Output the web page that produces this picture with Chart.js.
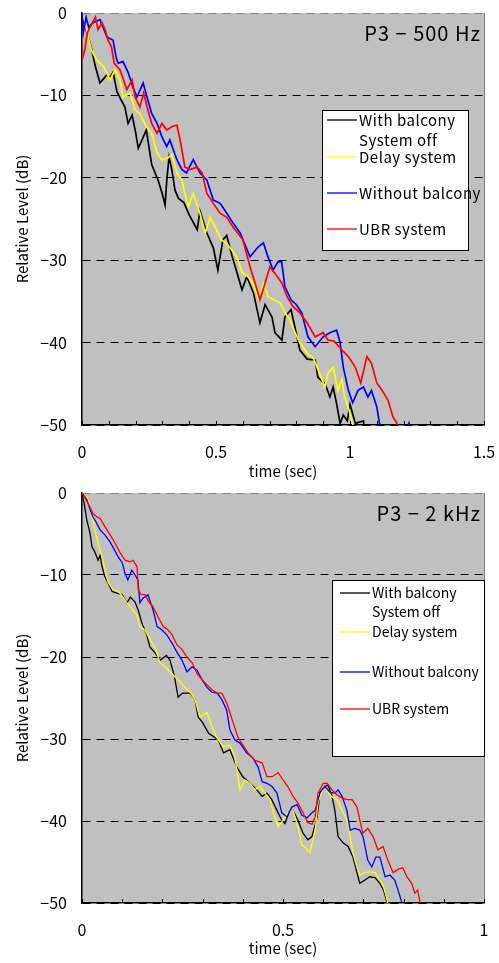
<!DOCTYPE html>
<html>
<head>
<meta charset="utf-8">
<script src="https://cdn.jsdelivr.net/npm/chart.js@4/dist/chart.umd.min.js"></script>
<style>
  body { margin: 0; background: #fff; }
  .box { position: absolute; left: 0; width: 499px; }
</style>
</head>
<body>
<div class="box" style="top:0;height:480px"><canvas id="c500" width="499" height="480"></canvas></div>
<div class="box" style="top:480px;height:483px"><canvas id="c2k" width="499" height="483"></canvas></div>
<script>
// legend text, one entry per curve (black one wraps onto two lines)
const legendLines = [['With balcony', 'System off'], ['Delay system'], ['Without balcony'], ['UBR system']];
const curveColors = ['#000000', '#ffff00', '#0000ff', '#ff0000'];
const yTicks = [0, -10, -20, -30, -40, -50];

// P3 - 500 Hz : [time (sec), level (dB)]
const black500 = [[0,0],[0.01,-1.5],[0.03,-3.6],[0.05,-6.5],[0.067,-8.5],[0.08,-8.0],[0.093,-7.5],[0.105,-7.8],[0.116,-7.2],[0.13,-9.5],[0.145,-10.5],[0.16,-11.4],[0.172,-13.4],[0.187,-12.4],[0.2,-14.5],[0.21,-16.4],[0.224,-15.4],[0.24,-14.2],[0.26,-18.4],[0.284,-20.3],[0.3,-22],[0.31,-23.3],[0.317,-20],[0.325,-17.5],[0.335,-19],[0.347,-21.5],[0.36,-22.5],[0.38,-23],[0.4,-24.5],[0.43,-26.3],[0.44,-24],[0.466,-26.7],[0.49,-28.5],[0.507,-31.2],[0.526,-27.5],[0.54,-27],[0.56,-29.5],[0.578,-31.5],[0.597,-33.6],[0.615,-32],[0.64,-34],[0.664,-37.6],[0.683,-35.4],[0.709,-36.9],[0.72,-38.8],[0.746,-39.7],[0.757,-36.9],[0.78,-36],[0.813,-40.9],[0.84,-42],[0.87,-42.1],[0.88,-44.2],[0.907,-45],[0.925,-46.6],[0.937,-45.4],[0.95,-47.4],[0.963,-49.8],[0.975,-48.8],[0.99,-49.5],[1.0,-47.5],[1.02,-49.8],[1.05,-49.5],[1.06,-52]];
const yellow500 = [[0,0],[0.01,-1],[0.035,-4.5],[0.055,-5.7],[0.08,-6.5],[0.105,-8.1],[0.123,-6.9],[0.142,-8.1],[0.153,-10.2],[0.18,-9.7],[0.198,-11.8],[0.216,-12.2],[0.24,-13.8],[0.26,-14.6],[0.28,-17],[0.298,-17.8],[0.32,-17.6],[0.335,-17.2],[0.354,-19.4],[0.373,-20.3],[0.384,-21.9],[0.397,-23.5],[0.415,-21.9],[0.44,-24.3],[0.46,-26.7],[0.478,-24.8],[0.497,-26],[0.52,-27.5],[0.54,-28],[0.565,-29],[0.58,-29.8],[0.597,-31.5],[0.62,-32],[0.64,-33],[0.66,-34.8],[0.677,-32.8],[0.694,-34.4],[0.714,-34.8],[0.74,-35.2],[0.76,-36.5],[0.776,-37.2],[0.795,-38.8],[0.813,-40],[0.84,-41.3],[0.862,-41.8],[0.886,-43.7],[0.907,-45.4],[0.918,-43.7],[0.937,-43],[0.955,-45.8],[0.97,-44.5],[0.98,-46.6],[0.993,-47.8],[1.01,-49.8],[1.026,-52]];
const blue500 = [[0,0],[0.005,-2.4],[0.015,-0.5],[0.025,-1.7],[0.04,-1.2],[0.067,-0.8],[0.093,-2.9],[0.116,-3.3],[0.128,-5.5],[0.135,-6.1],[0.153,-5.9],[0.172,-7.2],[0.19,-9],[0.205,-10.2],[0.228,-8.5],[0.246,-10.6],[0.26,-12.2],[0.28,-13.4],[0.298,-15],[0.316,-16.2],[0.328,-15.4],[0.354,-17.8],[0.373,-19],[0.39,-19.4],[0.415,-17.8],[0.44,-19.4],[0.466,-20.3],[0.49,-22.7],[0.515,-23.1],[0.52,-23.3],[0.54,-24.3],[0.564,-25.5],[0.59,-26.7],[0.627,-29.6],[0.657,-28.4],[0.677,-27.9],[0.694,-29.6],[0.713,-31.2],[0.731,-30.2],[0.745,-30.2],[0.757,-33.2],[0.78,-34.8],[0.8,-35.4],[0.82,-36.4],[0.843,-39.3],[0.87,-40.5],[0.9,-39.3],[0.925,-38.8],[0.95,-38.5],[0.963,-40],[0.975,-43],[0.994,-45.8],[1.01,-47.3],[1.03,-45.8],[1.05,-45.4],[1.067,-46.6],[1.08,-45.8],[1.1,-47.8],[1.11,-49.8],[1.13,-52],[1.2,-52],[1.22,-49.8],[1.24,-52]];
const red500 = [[0,-5.7],[0.01,-4.5],[0.02,-2.4],[0.03,-1.7],[0.05,-0.5],[0.06,-2],[0.075,-1.2],[0.086,-2],[0.097,-3.3],[0.11,-4.1],[0.12,-6.1],[0.142,-6.9],[0.155,-8.1],[0.167,-9.3],[0.187,-8.1],[0.198,-10.2],[0.216,-11.4],[0.23,-9.7],[0.243,-11.4],[0.26,-13.4],[0.28,-14.6],[0.298,-13.4],[0.316,-14.2],[0.335,-13.8],[0.354,-13.6],[0.366,-15.4],[0.384,-18.7],[0.403,-19],[0.43,-18.7],[0.448,-19.4],[0.466,-21.9],[0.49,-23.1],[0.515,-24.3],[0.54,-24.8],[0.564,-26],[0.6,-27.5],[0.627,-30.8],[0.646,-32.8],[0.664,-34.8],[0.683,-32.8],[0.701,-30.8],[0.72,-31.6],[0.746,-32.8],[0.765,-34.4],[0.787,-35.6],[0.813,-36.4],[0.84,-37.6],[0.87,-39.3],[0.9,-38.8],[0.918,-39.7],[0.94,-39.8],[0.97,-40.9],[0.994,-41.7],[1.02,-43],[1.04,-44.9],[1.063,-41.7],[1.08,-42.5],[1.1,-44.9],[1.12,-45.8],[1.142,-47],[1.16,-49],[1.175,-49.8],[1.19,-52]];

// P3 - 2 kHz : [time (sec), level (dB)]
const black2k = [[0,0],[0.005,-1.2],[0.012,-3.3],[0.02,-4.9],[0.025,-6.6],[0.032,-7.2],[0.04,-8.2],[0.045,-7.6],[0.05,-9],[0.057,-10.2],[0.065,-11],[0.075,-12],[0.087,-12.2],[0.1,-12.4],[0.112,-13.4],[0.12,-12.7],[0.132,-13.3],[0.14,-14.3],[0.149,-15.9],[0.16,-17.1],[0.169,-18.8],[0.182,-19.5],[0.194,-20.4],[0.21,-19.8],[0.219,-20.4],[0.23,-22.4],[0.239,-24.9],[0.25,-24.4],[0.269,-24.4],[0.281,-25.2],[0.289,-27.3],[0.3,-28],[0.315,-29.3],[0.339,-30.1],[0.352,-31.7],[0.368,-31.3],[0.385,-33.4],[0.4,-34.6],[0.418,-35.4],[0.435,-36.2],[0.448,-37],[0.46,-36.6],[0.472,-37.4],[0.485,-38.7],[0.497,-39.9],[0.505,-40.3],[0.515,-38.9],[0.525,-38.7],[0.537,-39.9],[0.55,-41.5],[0.562,-42.3],[0.572,-41.9],[0.585,-39.5],[0.592,-36.6],[0.604,-35.8],[0.612,-35.6],[0.622,-37],[0.629,-38.7],[0.637,-41.9],[0.65,-42.7],[0.662,-43.1],[0.674,-44.4],[0.684,-46.3],[0.691,-47.6],[0.704,-47.2],[0.716,-46.8],[0.729,-46.9],[0.741,-47.6],[0.75,-48.4],[0.759,-50],[0.77,-52]];
const yellow2k = [[0,0],[0.012,-0.5],[0.02,-1.7],[0.025,-2.9],[0.032,-4.5],[0.04,-6.1],[0.05,-7.8],[0.057,-9.4],[0.065,-10.9],[0.077,-11.8],[0.09,-12],[0.102,-12.7],[0.112,-13.4],[0.124,-14.1],[0.137,-14.9],[0.144,-16.3],[0.157,-16.7],[0.169,-17.9],[0.182,-18.9],[0.194,-20.7],[0.206,-21.2],[0.219,-21.8],[0.231,-22.4],[0.244,-23],[0.256,-23.7],[0.269,-24.3],[0.281,-25.2],[0.293,-27.3],[0.311,-26.8],[0.323,-28.5],[0.335,-29.8],[0.352,-31],[0.368,-30.7],[0.38,-32.2],[0.388,-34.6],[0.393,-36.2],[0.405,-35],[0.418,-35.4],[0.43,-36.2],[0.443,-35.8],[0.455,-36.6],[0.468,-37.4],[0.476,-39],[0.488,-40.7],[0.5,-39.9],[0.512,-39],[0.525,-38.7],[0.537,-40.7],[0.547,-42.9],[0.557,-43.3],[0.567,-43.9],[0.58,-41.1],[0.587,-37.8],[0.595,-36.6],[0.604,-35.8],[0.62,-37],[0.634,-37.4],[0.647,-38.7],[0.659,-39.9],[0.667,-41.9],[0.674,-43.9],[0.684,-45.6],[0.691,-46.6],[0.704,-46.3],[0.716,-46.2],[0.729,-46.3],[0.741,-47.2],[0.75,-48],[0.759,-49.6],[0.765,-52]];
const blue2k = [[0,0],[0.012,-0.8],[0.02,-2],[0.027,-2.9],[0.037,-3.7],[0.045,-4.5],[0.057,-5.1],[0.07,-6],[0.077,-6.6],[0.09,-7.8],[0.1,-8.5],[0.107,-9.8],[0.114,-10.6],[0.124,-9.4],[0.132,-10],[0.139,-10.6],[0.144,-13.4],[0.152,-12.8],[0.164,-12.4],[0.177,-14.3],[0.187,-16.3],[0.199,-16.7],[0.211,-17.3],[0.224,-18.3],[0.236,-19.4],[0.249,-20.4],[0.261,-21.8],[0.274,-21.2],[0.286,-21.6],[0.299,-22.8],[0.311,-23.7],[0.323,-24.3],[0.336,-24.4],[0.348,-25.2],[0.36,-26.5],[0.368,-28.9],[0.38,-30.1],[0.393,-30.5],[0.41,-31.7],[0.425,-32.3],[0.438,-33.4],[0.448,-35.2],[0.46,-35.4],[0.473,-35.8],[0.485,-36.6],[0.497,-39],[0.51,-39.5],[0.522,-38.3],[0.535,-38],[0.547,-39.3],[0.56,-39.6],[0.572,-39],[0.58,-38.7],[0.592,-36.5],[0.604,-35.8],[0.617,-36.5],[0.629,-36.6],[0.637,-36.2],[0.647,-37],[0.659,-38.7],[0.667,-41.1],[0.679,-40.9],[0.691,-41.1],[0.699,-41.9],[0.711,-44.8],[0.721,-45.6],[0.731,-44.4],[0.741,-44.4],[0.754,-46.8],[0.766,-46.6],[0.778,-47.2],[0.786,-48.4],[0.796,-50],[0.805,-52]];
const red2k = [[0,0],[0.01,-0.8],[0.02,-1.7],[0.027,-2.5],[0.037,-2.9],[0.045,-3.1],[0.057,-4.1],[0.07,-5.1],[0.082,-6.1],[0.095,-7.3],[0.107,-8.2],[0.119,-8.4],[0.127,-8.2],[0.137,-9],[0.14,-11.8],[0.147,-12.4],[0.157,-12.4],[0.165,-13.2],[0.177,-13.9],[0.189,-15.1],[0.202,-16.3],[0.212,-16.6],[0.224,-17.3],[0.236,-18.5],[0.249,-19.1],[0.261,-20],[0.274,-20.7],[0.286,-22],[0.299,-22.8],[0.311,-23.4],[0.323,-24],[0.336,-24.4],[0.348,-24.4],[0.36,-25.6],[0.368,-26.8],[0.376,-28],[0.388,-29.8],[0.4,-30.7],[0.413,-31.7],[0.43,-32.6],[0.448,-32.9],[0.46,-34.6],[0.473,-34.6],[0.488,-34.1],[0.5,-35],[0.512,-35.8],[0.525,-37],[0.537,-37.8],[0.55,-39],[0.562,-40.2],[0.572,-40.4],[0.58,-39.5],[0.587,-36.6],[0.6,-35.4],[0.61,-35.4],[0.622,-36.2],[0.634,-36.8],[0.647,-37.2],[0.659,-37.4],[0.672,-37.4],[0.684,-38.3],[0.691,-39.9],[0.699,-41.5],[0.711,-40.9],[0.724,-41.9],[0.736,-43.5],[0.749,-43.1],[0.761,-44.8],[0.774,-46.3],[0.786,-45.9],[0.798,-45.7],[0.808,-46.8],[0.82,-47.6],[0.828,-48.8],[0.835,-48.4],[0.841,-50],[0.85,-52]];

const FONT = '"Noto Sans CJK JP", "Noto Sans", sans-serif';

// grey plot area, right frame, inward x ticks, panel title and boxed legend
const framePlugin = {
    id: 'frame',
    beforeDraw(chart) {
        const { ctx, chartArea: a } = chart;
        ctx.save();
        ctx.fillStyle = '#c0c0c0';
        ctx.fillRect(a.left, a.top, a.width, a.height);
        ctx.restore();
    },
    afterDraw(chart, args, opts) {
        const { ctx, chartArea: a } = chart;
        const xs = chart.scales.x;
        ctx.save();
        ctx.strokeStyle = '#808080';
        ctx.lineWidth = 1;
        ctx.beginPath();
        ctx.moveTo(a.right + 0.5, a.top);
        ctx.lineTo(a.right + 0.5, a.bottom);
        ctx.stroke();

        ctx.strokeStyle = '#000';
        ctx.beginPath();
        xs.ticks.forEach(t => {
            const x = Math.round(xs.getPixelForValue(t.value)) + 0.5;
            ctx.moveTo(x, a.bottom);
            ctx.lineTo(x, a.bottom - 4);
        });
        ctx.stroke();

        ctx.fillStyle = '#000';
        ctx.font = '20px ' + FONT;
        ctx.letterSpacing = '1px';
        ctx.textAlign = 'right';
        ctx.textBaseline = 'middle';
        ctx.fillText(opts.title, a.right - 3, a.top + 20);

        const L = opts.legend;
        ctx.fillStyle = '#fff';
        ctx.fillRect(L.x, L.y, L.w, L.h);
        ctx.strokeStyle = '#000';
        ctx.lineWidth = 1;
        ctx.strokeRect(L.x + 0.5, L.y + 0.5, L.w, L.h);
        ctx.font = L.fontSize + 'px ' + FONT;
        ctx.letterSpacing = L.spacing;
        ctx.textAlign = 'left';
        chart.data.datasets.forEach((ds, i) => {
            const y = L.y + L.rows[i];
            ctx.strokeStyle = ds.borderColor;
            ctx.lineWidth = 1.3;
            ctx.beginPath();
            ctx.moveTo(L.x + L.lineFrom, y);
            ctx.lineTo(L.x + L.lineTo, y);
            ctx.stroke();
            ctx.fillStyle = '#000';
            legendLines[i].forEach((txt, k) => {
                ctx.fillText(txt, L.x + L.lineTo + 2, y + k * L.lineGap);
            });
        });
        ctx.restore();
    }
};

function buildChart(id, series, cfg) {
    const ctx = document.getElementById(id).getContext('2d');
    return new Chart(ctx, {
        type: 'line',
        data: {
            datasets: series.map((pts, i) => ({
                label: legendLines[i].join(' '),
                data: pts.map(p => ({ x: p[0], y: p[1] })),
                borderColor: curveColors[i],
                borderWidth: cfg.lineWidth,
                pointRadius: 0,
                tension: 0,
                order: 3 - i
            }))
        },
        options: {
            responsive: false,
            animation: false,
            layout: { padding: { top: 13, right: 15, left: 0, bottom: 0 } },
            plugins: {
                legend: { display: false },
                tooltip: { enabled: false },
                frame: { title: cfg.title, legend: cfg.legend }
            },
            scales: {
                x: {
                    type: 'linear',
                    min: 0,
                    max: cfg.xMax,
                    afterFit: s => { s.height = cfg.xHeight; s.paddingLeft = 0; s.paddingRight = 0; },
                    grid: { drawOnChartArea: false, drawTicks: false },
                    border: { color: '#000', width: 1.5 },
                    ticks: {
                        stepSize: 0.1,
                        autoSkip: false,
                        maxRotation: 0,
                        padding: 17,
                        color: '#000',
                        font: { family: FONT, size: 16 },
                        callback: v => Math.abs(v * 2 - Math.round(v * 2)) < 1e-6 ? String(Math.round(v * 2) / 2) : ''
                    },
                    title: {
                        display: true,
                        text: 'time (sec)',
                        color: '#000',
                        font: { family: FONT, size: 15 },
                        padding: { top: 0, bottom: cfg.titlePad }
                    }
                },
                y: {
                    min: yTicks[yTicks.length - 1],
                    max: yTicks[0],
                    afterFit: s => { s.width = 82; s.paddingTop = 0; s.paddingBottom = 0; },
                    afterBuildTicks: s => { s.ticks = yTicks.map(v => ({ value: v })); },
                    grid: {
                        drawTicks: false,
                        color: c => c.tick && c.tick.value === 0 ? '#808080' : '#000',
                        lineWidth: 1
                    },
                    border: { color: '#000', width: 1.5, dash: [8, 6] },
                    ticks: {
                        padding: 15,
                        color: '#000',
                        font: { family: FONT, size: 16 },
                        callback: v => v < 0 ? '\u2212' + Math.abs(v) : String(v)
                    },
                    title: {
                        display: true,
                        text: 'Relative Level (dB)',
                        color: '#000',
                        font: { family: FONT, size: 15 },
                        padding: { top: 13, bottom: 0 }
                    }
                }
            }
        },
        plugins: [framePlugin]
    });
}

buildChart('c500', [black500, yellow500, blue500, red500], {
    title: 'P3 \u2212 500 Hz',
    xMax: 1.5,
    xHeight: 55,
    titlePad: 0,
    lineWidth: 1.7,
    legend: { x: 322, y: 110, w: 146, h: 140, rows: [10, 47, 83, 119], lineFrom: 5, lineTo: 35, lineGap: 20, fontSize: 15, spacing: '0.5px' }
});

buildChart('c2k', [black2k, yellow2k, blue2k, red2k], {
    title: 'P3 \u2212 2 kHz',
    xMax: 1,
    xHeight: 60,
    titlePad: 6,
    lineWidth: 1.3,
    legend: { x: 332, y: 100, w: 152, h: 176, rows: [13, 52, 92, 129], lineFrom: 8, lineTo: 38, lineGap: 19, fontSize: 14, spacing: '0px' }
});
</script>
</body>
</html>
